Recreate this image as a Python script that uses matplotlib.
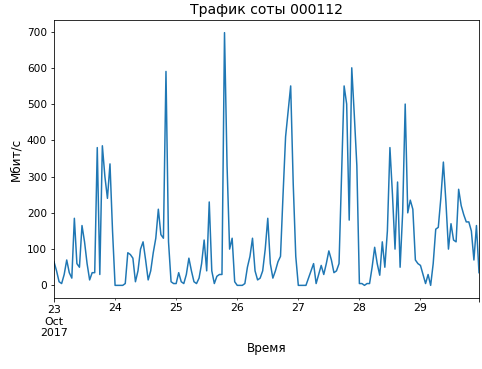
import numpy as np
import pandas as pd
import matplotlib
matplotlib.use("Agg")
import matplotlib.pyplot as plt

# hourly traffic, Oct 23 00:00 .. Oct 29 23:00
day_23 = [65, 40, 10, 5, 30, 70, 35, 20, 185, 60, 50, 165,
          120, 60, 15, 35, 35, 380, 30, 385, 300, 240, 335, 150]
day_24 = [0, 0, 0, 0, 5, 90, 85, 75, 10, 40, 100, 120,
          70, 15, 40, 90, 130, 210, 140, 130, 590, 120, 10, 5]
day_25 = [5, 35, 10, 5, 30, 75, 40, 10, 5, 20, 60, 125,
          40, 230, 40, 5, 25, 30, 30, 697, 330, 100, 130, 10]
day_26 = [0, 0, 0, 5, 50, 80, 130, 40, 15, 20, 40, 100,
          185, 60, 20, 40, 65, 80, 250, 410, 480, 550, 280, 80]
day_27 = [0, 0, 0, 0, 20, 40, 60, 5, 30, 55, 30, 60,
          95, 70, 35, 40, 60, 300, 550, 500, 180, 600, 470, 330]
day_28 = [5, 5, 0, 5, 5, 50, 105, 60, 28, 120, 50, 150,
          380, 250, 100, 285, 50, 200, 500, 200, 235, 210, 70, 60]
day_29 = [55, 30, 5, 30, 0, 60, 155, 160, 240, 340, 230, 100,
          170, 125, 120, 265, 220, 195, 175, 175, 150, 70, 165, 35]

traffic = day_23 + day_24 + day_25 + day_26 + day_27 + day_28 + day_29
index = pd.date_range("2017-10-23 00:00", periods=len(traffic), freq="h")
series = pd.Series(traffic, index=index)

fig = plt.figure(figsize=(482 / 72, 369 / 72), dpi=72)
ax = fig.add_axes([54 / 482, 1 - 298 / 369, 425 / 482, 278 / 369])
series.plot(ax=ax, color="#1f77b4", linewidth=1.5)

ax.set_title("Трафик соты 000112", fontsize=14)
ax.set_ylabel("Мбит/с", fontsize=12)
ax.set_xlabel("Время", fontsize=12)
ax.set_yticks(np.arange(0, 701, 100))
ax.tick_params(axis="y", labelsize=10.5)
ax.tick_params(axis="x", which="both", labelsize=11)

fig.savefig("out.png", dpi=72)
